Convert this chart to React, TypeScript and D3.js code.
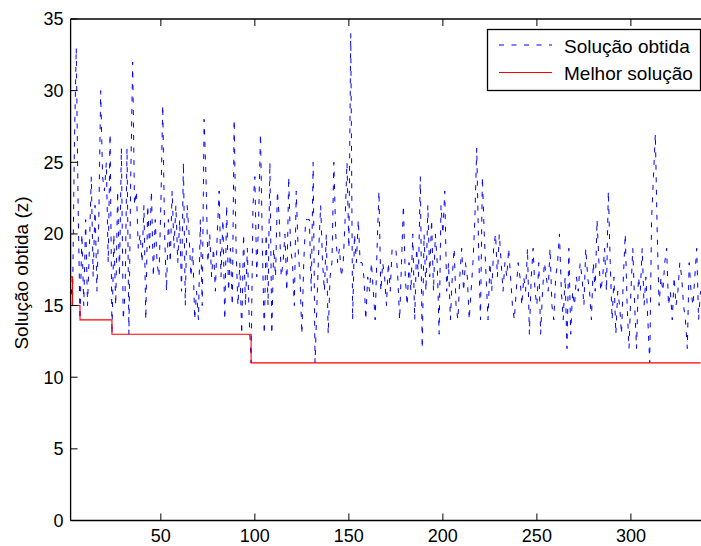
import React from "react";
import * as d3 from "d3";

// Iteration indices start at 2 (first visible point at the left axis)
const startIter = 2;
const obtained: number[] = [
  17, 15, 26, 33, 22, 14, 20, 15, 21, 15,
  19, 24, 17, 22, 16, 21, 30, 24, 23, 25,
  18, 27, 13, 20, 15, 23, 17, 26, 14, 16,
  26, 13, 24, 32, 22, 23, 19, 20, 18, 22,
  14, 22, 19, 23, 17, 21, 18, 17, 22, 29,
  20, 16, 21, 18, 23, 19, 22, 18, 21, 16,
  25, 15, 22, 20, 17, 19, 14, 16, 14, 21,
  15, 28, 24, 18, 20, 17, 19, 16, 20, 23,
  17, 21, 14, 22, 16, 19, 15, 28, 19, 15,
  18, 13, 20, 15, 19, 14, 11, 22, 24, 17,
  21, 27, 19, 13, 20, 15, 25, 13, 19, 17,
  23, 21, 17, 18, 20, 16, 24, 19, 18, 15,
  23, 19, 17, 13, 18, 21, 21, 21, 16, 25,
  11, 15, 19, 22, 18, 16, 20, 13, 17, 18,
  25, 20, 18, 19, 17, 18, 21, 25, 19, 34,
  14, 20, 18, 21, 18, 18, 17, 14, 17, 16,
  18, 16, 14, 19, 23, 16, 18, 17, 15, 18,
  16, 19, 19, 19, 17, 14, 18, 22, 17, 15,
  18, 16, 20, 14, 19, 17, 24, 12, 20, 16,
  22, 17, 21, 16, 20, 18, 13, 22, 20, 23,
  16, 18, 14, 17, 19, 15, 14, 17, 19, 16,
  18, 17, 14, 16, 18, 21, 26, 19, 14, 24,
  20, 17, 14, 18, 16, 19, 20, 17, 20, 18,
  16, 18, 17, 19, 17, 15, 14, 16, 18, 17,
  15, 17, 16, 19, 13, 17, 19, 16, 15, 18,
  13, 16, 18, 17, 16, 19, 15, 14, 17, 18,
  20, 16, 14, 17, 12, 19, 13, 16, 15, 17,
  16, 18, 17, 15, 19, 17, 16, 14, 18, 16,
  21, 18, 16, 17, 19, 16, 23, 18, 14, 17,
  13, 16, 15, 13, 17, 20, 15, 12, 16, 19,
  15, 12, 17, 16, 19, 15, 17, 14, 11, 21,
  24, 27, 20, 15, 17, 16, 18, 19, 15, 16,
  14, 17, 15, 16, 18, 17, 15, 14, 12, 18,
  16, 15, 17, 19, 14, 16,
];

// Best solution found so far: iteration where it changes, and its value
const bestIter: number[] = [2, 3, 7, 24, 98, 337];
const bestValue: number[] = [17, 15, 14, 13, 11, 11];

const xTicks: number[] = [50, 100, 150, 200, 250, 300];
const yTicks: number[] = [0, 5, 10, 15, 20, 25, 30, 35];
const legendLabels: string[] = ["Solução obtida", "Melhor solução"];
const yLabel = "Solução obtida (z)";

const W = 701;
const H = 546;
const left = 70.6;
const right = 711;
const top = 19;
const bottom = 520.5;
const FONT = "'Liberation Sans', Arial, Helvetica, sans-serif";

export default function App() {
  const x = d3.scaleLinear().domain([2, 342.6]).range([left, right]);
  const y = d3.scaleLinear().domain([0, 35]).range([bottom, top]);

  const obtainedPts: [number, number][] = obtained.map((v, i) => [startIter + i, v]);
  const bestPts: [number, number][] = bestIter.map((it, i) => [it, bestValue[i]]);

  const lineGen = d3
    .line<[number, number]>()
    .x((d) => x(d[0]))
    .y((d) => y(d[1]));
  const stepGen = d3
    .line<[number, number]>()
    .x((d) => x(d[0]))
    .y((d) => y(d[1]))
    .curve(d3.curveStepAfter);

  const tickLen = 7;

  return (
    <svg
      width={W}
      height={H}
      style={{ position: "absolute", left: 0, top: 0, background: "#fff" }}
      fontFamily={FONT}
    >
      <rect x={0} y={0} width={W} height={H} fill="#fff" />
      <defs>
        <clipPath id="plotClip">
          <rect x={left} y={top} width={right - left} height={bottom - top} />
        </clipPath>
      </defs>

      <g clipPath="url(#plotClip)">
        <path
          d={lineGen(obtainedPts) || ""}
          fill="none"
          stroke="#0000ff"
          strokeWidth={1}
          strokeDasharray="5,7.5"
        />
        <path d={stepGen(bestPts) || ""} fill="none" stroke="#ff0000" strokeWidth={1.1} />
      </g>

      {/* axes box lines */}
      <line x1={left} x2={right} y1={bottom} y2={bottom} stroke="#000" strokeWidth={1.3} />
      <line x1={left} x2={right} y1={top} y2={top} stroke="#000" strokeWidth={1.3} />
      <line x1={left} x2={left} y1={top} y2={bottom} stroke="#000" strokeWidth={1.3} />

      {/* x ticks */}
      {xTicks.map((t) => (
        <g key={"x" + t}>
          <line x1={x(t)} x2={x(t)} y1={bottom} y2={bottom - tickLen} stroke="#000" strokeWidth={1} />
          <line x1={x(t)} x2={x(t)} y1={top} y2={top + tickLen} stroke="#000" strokeWidth={1} />
          <text x={x(t)} y={542} textAnchor="middle" fontSize={18} fill="#000">
            {t}
          </text>
        </g>
      ))}

      {/* y ticks */}
      {yTicks.map((t) => (
        <g key={"y" + t}>
          <line x1={left} x2={left + tickLen} y1={y(t)} y2={y(t)} stroke="#000" strokeWidth={1} />
          <text x={63.5} y={y(t)} dy="0.35em" textAnchor="end" fontSize={18} fill="#000">
            {t}
          </text>
        </g>
      ))}

      <text
        transform={`translate(27.5,273) rotate(-90)`}
        textAnchor="middle"
        fontSize={19}
        fill="#000"
      >
        {yLabel}
      </text>

      {/* legend */}
      <g>
        <rect x={487.5} y={29.5} width={213} height={61} fill="#fff" stroke="#000" strokeWidth={1.3} />
        <line x1={499} x2={552} y1={45} y2={45} stroke="#0000ff" strokeWidth={1} strokeDasharray="5,7.5" />
        <line x1={499} x2={552} y1={72.5} y2={72.5} stroke="#ff0000" strokeWidth={1.1} />
        <text x={564} y={52.5} fontSize={19} fill="#000">
          {legendLabels[0]}
        </text>
        <text x={564} y={80} fontSize={19} fill="#000">
          {legendLabels[1]}
        </text>
      </g>
    </svg>
  );
}
